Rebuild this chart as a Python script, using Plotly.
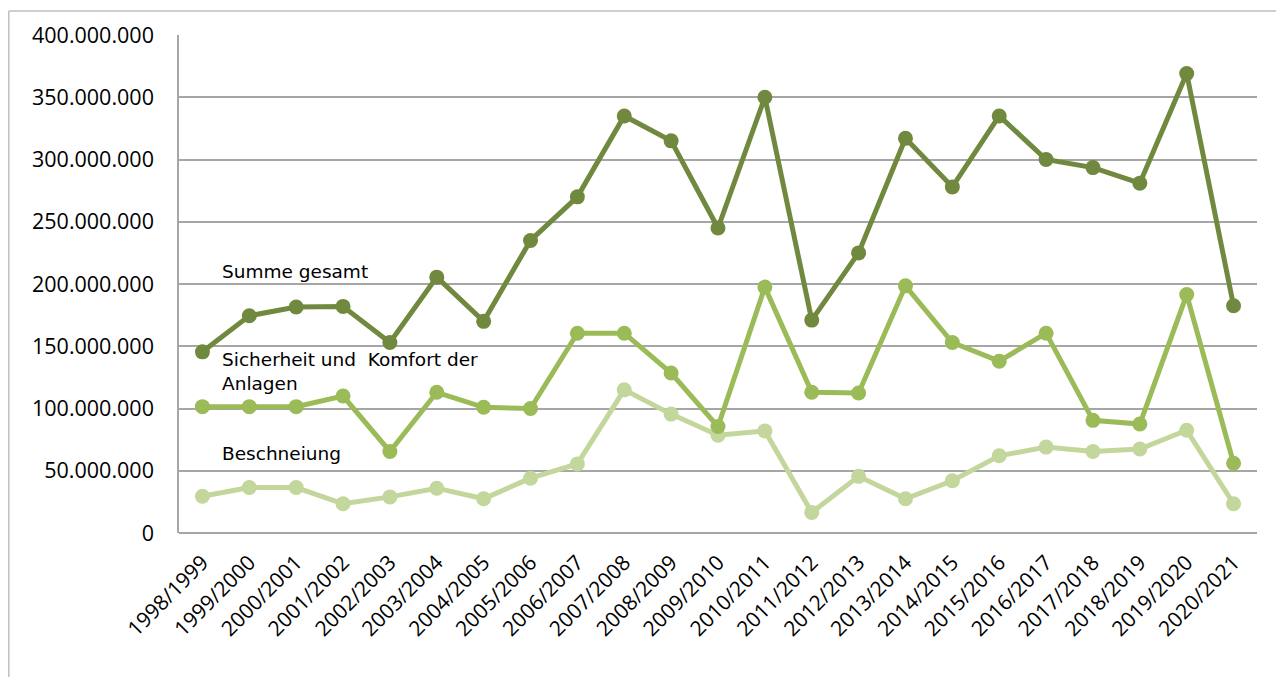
import plotly.graph_objects as go

seasons = ["1998/1999", "1999/2000", "2000/2001", "2001/2002", "2002/2003", "2003/2004",
           "2004/2005", "2005/2006", "2006/2007", "2007/2008", "2008/2009", "2009/2010",
           "2010/2011", "2011/2012", "2012/2013", "2013/2014", "2014/2015", "2015/2016",
           "2016/2017", "2017/2018", "2018/2019", "2019/2020", "2020/2021"]

summe_gesamt = [145.5e6, 174.5e6, 181.5e6, 182e6, 153e6, 205.5e6, 170e6, 235e6, 270e6,
                335e6, 315e6, 245e6, 350e6, 171e6, 225e6, 317e6, 278e6, 335e6, 300e6,
                293.5e6, 281e6, 369e6, 182.5e6]

sicherheit_komfort = [101.5e6, 101.5e6, 101.5e6, 110e6, 65.5e6, 113e6, 101e6, 100e6,
                      160.5e6, 160.5e6, 128.5e6, 85.5e6, 197.5e6, 113e6, 112.5e6, 198.5e6,
                      153e6, 138e6, 160.5e6, 90.5e6, 87.5e6, 191.5e6, 56e6]

beschneiung = [29.5e6, 36.5e6, 36.5e6, 23.5e6, 29e6, 36e6, 27.5e6, 44e6, 55.5e6, 115e6,
               95.5e6, 78.5e6, 82e6, 16.5e6, 45.5e6, 27.5e6, 42e6, 62e6, 69e6, 65.5e6,
               67.5e6, 82.5e6, 23.5e6]

series = [
    ("Summe gesamt", summe_gesamt, "#71893F"),
    ("Sicherheit und Komfort der Anlagen", sicherheit_komfort, "#9BBB59"),
    ("Beschneiung", beschneiung, "#C3D69B"),
]

fig = go.Figure()
for name, vals, col in reversed(series):
    fig.add_trace(go.Scatter(
        x=seasons, y=vals, name=name, mode="lines+markers",
        line=dict(color=col, width=5),
        marker=dict(color=col, size=15),
        showlegend=False, cliponaxis=False,
    ))

annot_font = dict(family="DejaVu Sans", size=18.5, color="#000000")
labels = [
    ("Summe gesamt", 210e6),
    ("Sicherheit und  Komfort der<br>Anlagen", 130e6),
    ("Beschneiung", 64e6),
]
for txt, yv in labels:
    fig.add_annotation(text=txt, x=0.038, xref="paper", y=yv, yref="y",
                       xanchor="left", yanchor="middle", align="left",
                       showarrow=False, font=annot_font)

grey = "#A6A6A6"
W, H = 1276, 669
L, T, R, B = 171, 27, 27, 143.5
fig.update_layout(
    width=W, height=H,
    margin=dict(l=L, r=R, t=T, b=B, pad=0),
    paper_bgcolor="white", plot_bgcolor="white",
    separators=",.",
    font=dict(family="Open Sans", size=20, color="#000000"),
    xaxis=dict(
        type="category", range=[-0.5, len(seasons) - 0.5],
        showgrid=False, showline=False, zeroline=False,
        tickangle=-45, ticks="outside", ticklen=8, tickcolor="rgba(0,0,0,0)",
        tickfont=dict(family="Open Sans", size=21, color="#000000"),
    ),
    yaxis=dict(
        range=[0, 400e6], dtick=50e6, tickformat=",d",
        showgrid=True, gridcolor=grey, gridwidth=1.5,
        showline=True, linecolor=grey, linewidth=1.5,
        zeroline=True, zerolinecolor=grey, zerolinewidth=1.5,
        ticks="outside", ticklen=19, tickcolor="rgba(0,0,0,0)",
        tickfont=dict(family="Open Sans", size=21.5, color="#000000"),
    ),
)

plot_w = W - L - R
plot_h = H - T - B
# outer chart border (left and top edges visible)
bx = (0.8 - L) / plot_w
by = 1 + (T - 3) / plot_h
fig.add_shape(type="line", xref="paper", yref="paper",
              x0=bx, x1=bx, y0=-0.5, y1=by,
              line=dict(color="#BFBFBF", width=1.5))
fig.add_shape(type="line", xref="paper", yref="paper",
              x0=bx, x1=1.1, y0=by, y1=by,
              line=dict(color="#BFBFBF", width=1.5))

fig.write_html("out.html")
